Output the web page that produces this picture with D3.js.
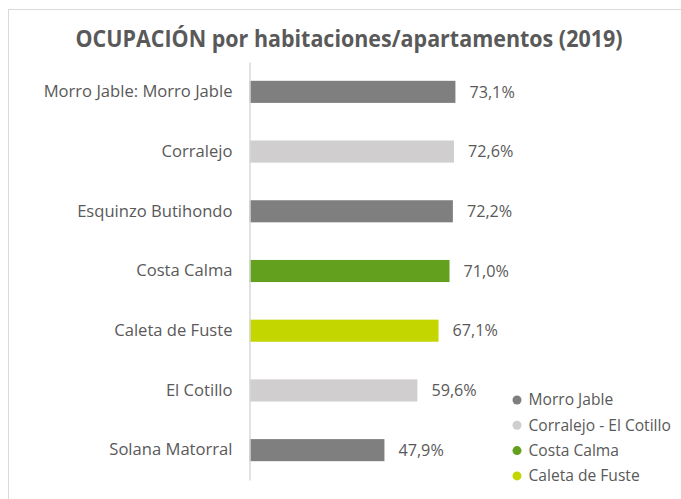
<!DOCTYPE html>
<html><head><meta charset="utf-8">
<script src="https://cdn.jsdelivr.net/npm/d3@7"></script>
<style>html,body{margin:0;padding:0;background:#fff;}svg{display:block;}</style>
</head><body>
<script>
const categories = ["Morro Jable: Morro Jable","Corralejo","Esquinzo Butihondo","Costa Calma","Caleta de Fuste","El Cotillo","Solana Matorral"];
const values = [73.1,72.6,72.2,71.0,67.1,59.6,47.9];
const groups = ["Morro Jable","Corralejo - El Cotillo","Morro Jable","Costa Calma","Caleta de Fuste","Corralejo - El Cotillo","Morro Jable"];
const legendNames = ["Morro Jable","Corralejo - El Cotillo","Costa Calma","Caleta de Fuste"];
const legendColors = ["#7f7f7f","#d0cece","#62a01d","#c4d600"];
const title = "OCUPACIÓN por habitaciones/apartamentos (2019)";

const W=681,H=499;
const svg=d3.select("body").append("svg").attr("width",W).attr("height",H);
svg.append("rect").attr("x",8.5).attr("y",9.5).attr("width",W).attr("height",H).attr("fill","#fff").attr("stroke","#d9d9d9");

svg.append("text").attr("x",349).attr("y",47).attr("text-anchor","middle")
  .attr("font-family","'Open Sans',sans-serif").attr("font-weight","bold").attr("font-size",23)
  .attr("fill","#595959").attr("textLength",547).attr("lengthAdjust","spacingAndGlyphs").text(title);

const color=d3.scaleOrdinal().domain(legendNames).range(legendColors);
const x=d3.scaleLinear().domain([0,100]).range([249.5,531.2]);
const y=d3.scaleBand().domain(categories).range([62,480]).paddingInner(0.63).paddingOuter(0.315);

const g=svg.append("g");
g.selectAll("rect.bar").data(categories).join("rect").attr("class","bar")
  .attr("x",x(0)).attr("y",d=>y(d)).attr("width",(d,i)=>x(values[i])-x(0)).attr("height",y.bandwidth())
  .attr("fill",(d,i)=>color(groups[i]));

const yAxis=d3.axisLeft(y).tickSize(0).tickPadding(17);
const ya=svg.append("g").attr("transform",`translate(${x(0)},0)`).call(yAxis);
ya.select(".domain").attr("stroke","#d9d9d9").attr("stroke-width",1.5);
ya.selectAll("text").attr("font-family","'Open Sans',sans-serif").attr("font-size",16.6).attr("fill","#595959");

g.selectAll("text.val").data(categories).join("text").attr("class","val")
  .attr("x",(d,i)=>x(values[i])+14).attr("y",d=>y(d)+y.bandwidth()/2).attr("dy","0.35em")
  .attr("font-family","'Open Sans',sans-serif").attr("font-size",16.2).attr("fill","#595959")
  .text((d,i)=>d3.format(".1f")(values[i]).replace(".",",")+"%");

const lg=svg.append("g");
legendNames.forEach((n,i)=>{
  const yy=400+i*25.3;
  lg.append("circle").attr("cx",517).attr("cy",yy).attr("r",4.5).attr("fill",legendColors[i]);
  lg.append("text").attr("x",528.5).attr("y",yy).attr("dy","0.35em")
    .attr("font-family","'Open Sans',sans-serif").attr("font-size",15.6).attr("fill","#595959").text(n);
});
</script>
</body></html>
